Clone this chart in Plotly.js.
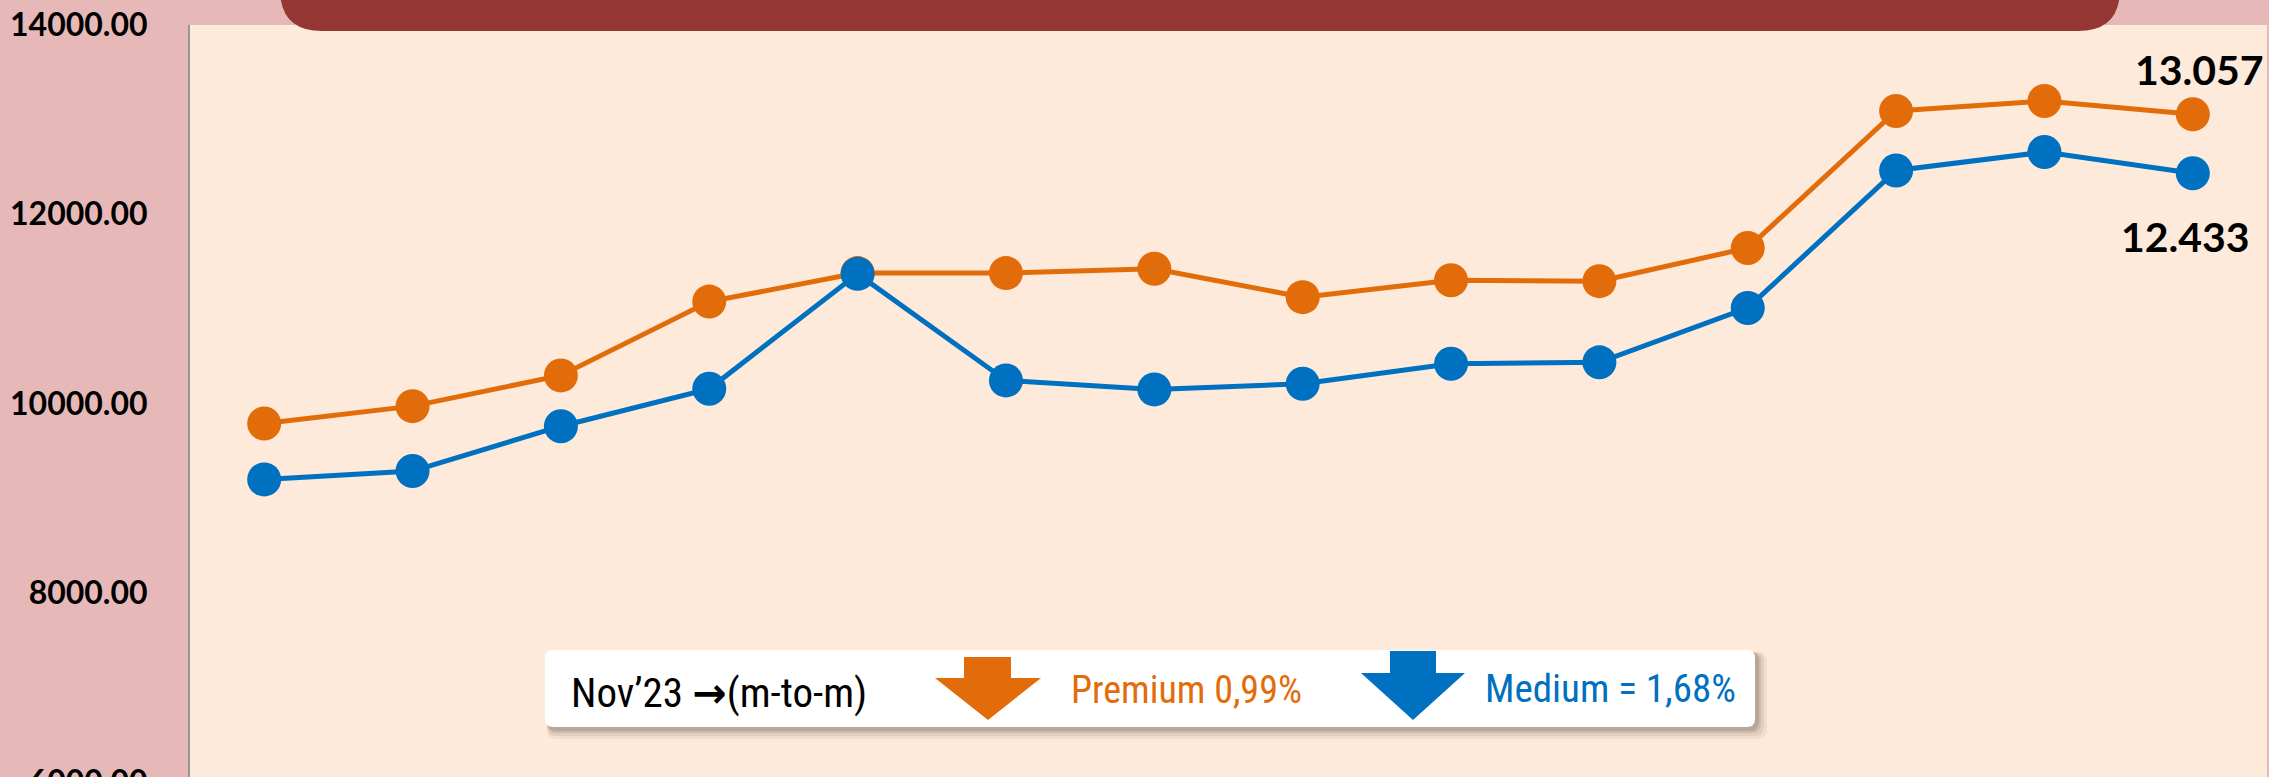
<!DOCTYPE html>
<html>
<head>
<meta charset="utf-8">
<script src="https://cdn.plot.ly/plotly-3.0.1.min.js"></script>
<style>
html,body{margin:0;padding:0;overflow:hidden;background:#E6B9B8;}
#chart{width:2269px;height:830px;}
</style>
</head>
<body>
<div id="chart"></div>
<script>
// ---- data ----
const months = ["Okt'22","Nov'22","Des'22","Jan'23","Feb'23","Mar'23","Apr'23","Mei'23","Jun'23","Jul'23","Agu'23","Sep'23","Okt'23","Nov'23"];
const premium = [9788, 9972, 10297, 11077, 11378, 11378, 11424, 11124, 11302, 11293, 11643, 13091, 13197, 13057];
const medium  = [9198, 9286, 9760, 10155, 11370, 10244, 10149, 10208, 10420, 10435, 11010, 12463, 12657, 12433];
const tickVals = [6000, 8000, 10000, 12000, 14000];
const lastPremiumLabel = "13.057";
const lastMediumLabel = "12.433";
const notePeriod = "Nov\u201923 ";
const noteArrow = "\u2192";
const noteBasis = "(m-to-m)";
const premiumNote = "Premium 0,99%";
const mediumNote = "Medium = 1,68%";

// ---- geometry helpers (pixel -> paper) ----
const L = 190, R = 2267, T = 25, B = 782;
const W = R - L, H = B - T;
const fx = p => (p - L) / W;
const fy = p => (B - p) / H;
const P = (x, y) => fx(x).toFixed(5) + ',' + fy(y).toFixed(5);

function roundRectPath(x0, y0, x1, y1, r) {
  return 'M' + P(x0 + r, y0) + ' L' + P(x1 - r, y0) + ' Q' + P(x1, y0) + ' ' + P(x1, y0 + r) +
    ' L' + P(x1, y1 - r) + ' Q' + P(x1, y1) + ' ' + P(x1 - r, y1) +
    ' L' + P(x0 + r, y1) + ' Q' + P(x0, y1) + ' ' + P(x0, y1 - r) +
    ' L' + P(x0, y0 + r) + ' Q' + P(x0, y0) + ' ' + P(x0 + r, y0) + ' Z';
}
function downArrowPath(x0, x1, sx0, sx1, yTop, yShaft, yTip) {
  const xm = (x0 + x1) / 2;
  return 'M' + P(sx0, yTop) + ' L' + P(sx1, yTop) + ' L' + P(sx1, yShaft) + ' L' + P(x1, yShaft) +
    ' L' + P(xm, yTip) + ' L' + P(x0, yShaft) + ' L' + P(sx0, yShaft) + ' Z';
}

const ORANGE = '#E36C0A', BLUE = '#0070C0';

const traces = [
  {x: months, y: premium, type: 'scatter', mode: 'lines+markers', name: 'Premium',
   line: {color: ORANGE, width: 5}, marker: {color: ORANGE, size: 34}, hoverinfo: 'skip'},
  {x: months, y: medium, type: 'scatter', mode: 'lines+markers', name: 'Medium',
   line: {color: BLUE, width: 5}, marker: {color: BLUE, size: 34}, hoverinfo: 'skip'}
];

const shapes = [];
// top banner (dark red, rounded bottom)
shapes.push({type: 'path', xref: 'paper', yref: 'paper', layer: 'above',
  path: roundRectPath(280, -60, 2120, 31, 42), fillcolor: '#943634', line: {width: 0}});
// legend box shadow (soft)
const shadowLayers = [[12, 0.07], [9, 0.10], [6, 0.14], [4, 0.18]];
shadowLayers.forEach(([d, a]) => {
  shapes.push({type: 'path', xref: 'paper', yref: 'paper', layer: 'above',
    path: roundRectPath(545 + 2, 650 + 2, 1755 + d, 727 + d, 10),
    fillcolor: 'rgba(90,70,60,' + a + ')', line: {width: 0}});
});
// legend box
shapes.push({type: 'path', xref: 'paper', yref: 'paper', layer: 'above',
  path: roundRectPath(545, 650, 1755, 727, 8), fillcolor: '#FFFFFF', line: {width: 0}});
// arrows
shapes.push({type: 'path', xref: 'paper', yref: 'paper', layer: 'above',
  path: downArrowPath(935, 1041, 964, 1011, 657, 678, 720), fillcolor: ORANGE, line: {width: 0}});
shapes.push({type: 'path', xref: 'paper', yref: 'paper', layer: 'above',
  path: downArrowPath(1361, 1465, 1390, 1436, 651, 673, 720), fillcolor: BLUE, line: {width: 0}});

const narrow = 'Liberation Sans Narrow, Arial Narrow, Roboto Condensed, Liberation Sans, sans-serif';
const boldFont = 'Lato, Carlito, Calibri, sans-serif';
const annotations = [
  {x: months[months.length - 1], y: premium[premium.length - 1], xref: 'x', yref: 'y',
   text: lastPremiumLabel, showarrow: false, xshift: 7, yshift: 45,
   font: {family: boldFont, size: 41, color: '#000', weight: 'bold'}},
  {x: months[months.length - 1], y: medium[medium.length - 1], xref: 'x', yref: 'y',
   text: lastMediumLabel, showarrow: false, xshift: -7, yshift: -63,
   font: {family: boldFont, size: 41, color: '#000', weight: 'bold'}},
  {x: fx(569), y: fy(693), xref: 'paper', yref: 'paper', xanchor: 'left', yanchor: 'middle',
   text: notePeriod + '<span style="font-family:DejaVu Sans;font-size:41px;font-weight:bold">' + noteArrow + '</span>' + noteBasis,
   showarrow: false, font: {family: narrow, size: 41, color: '#000'}},
  {x: fx(1069), y: fy(690), xref: 'paper', yref: 'paper', xanchor: 'left', yanchor: 'middle',
   text: premiumNote, showarrow: false, font: {family: narrow, size: 38, color: ORANGE}},
  {x: fx(1483), y: fy(689), xref: 'paper', yref: 'paper', xanchor: 'left', yanchor: 'middle',
   text: mediumNote, showarrow: false, font: {family: narrow, size: 39, color: BLUE}}
];

const layout = {
  width: 2269, height: 830,
  margin: {l: L, r: 2269 - R, t: T, b: 830 - B},
  paper_bgcolor: '#E6B9B8',
  plot_bgcolor: '#FDEADA',
  showlegend: false,
  hovermode: false,
  xaxis: {type: 'category', range: [-0.5, months.length - 0.5], showgrid: false, zeroline: false,
    showline: false, ticks: '', showticklabels: false},
  yaxis: {range: [6000, 14000], tickvals: tickVals, tickformat: '.2f', showgrid: false, zeroline: false,
    showline: true, linecolor: '#969696', linewidth: 2, ticks: '', ticklabelstandoff: 34,
    tickfont: {family: boldFont, size: 32, color: '#000', weight: 'bold'}},
  shapes: shapes,
  annotations: annotations
};

Plotly.newPlot('chart', traces, layout, {displayModeBar: false, staticPlot: true});
</script>
</body>
</html>
